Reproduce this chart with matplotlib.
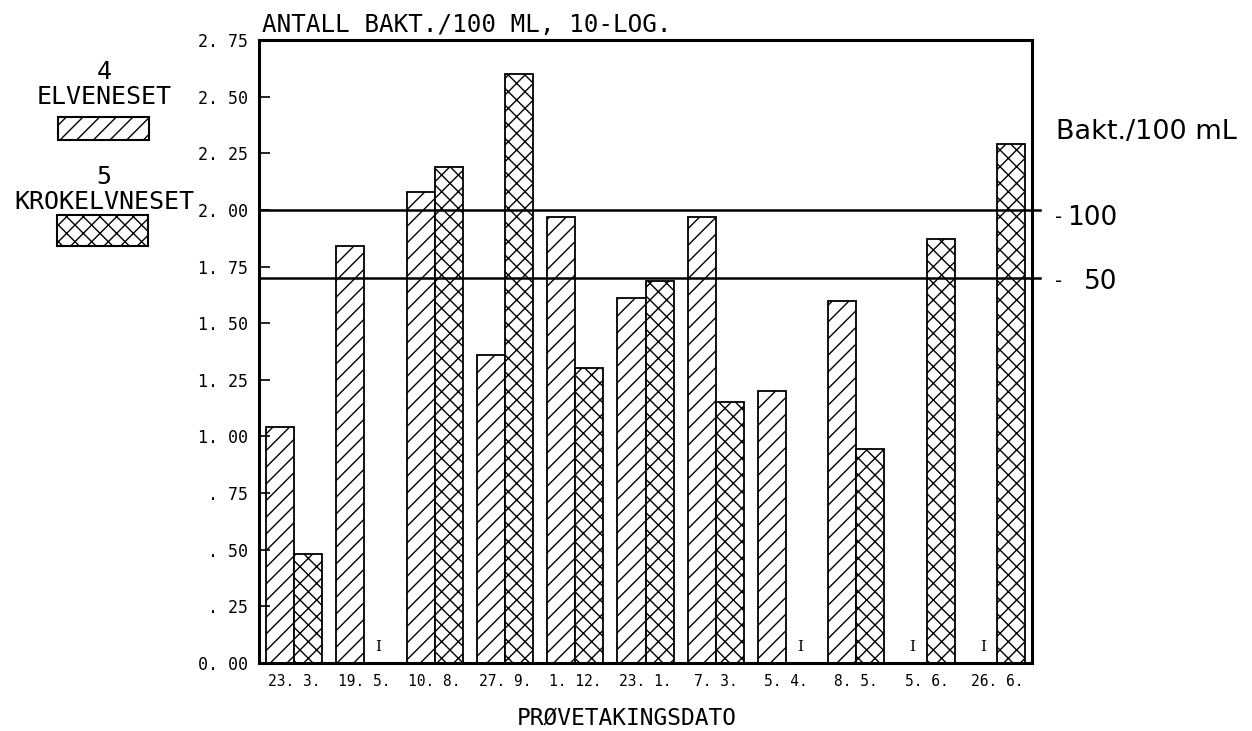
import numpy as np
import matplotlib
matplotlib.use('Agg')
import matplotlib.pyplot as plt
from matplotlib.patches import Rectangle

# sampling dates
dates = ["23. 3.", "19. 5.", "10. 8.", "27. 9.", "1. 12.", "23. 1.",
         "7. 3.", "5. 4.", "8. 5.", "5. 6.", "26. 6."]

# log10 of bacteria per 100 mL, nan = no sample ("I")
elveneset = [1.04, 1.84, 2.08, 1.36, 1.97, 1.61, 1.97, 1.20, 1.60, np.nan, np.nan]
krokelvneset = [0.48, np.nan, 2.19, 2.60, 1.30, 1.685, 1.15, np.nan, 0.945, 1.87, 2.29]

y_ticks = [0.0, 0.25, 0.5, 0.75, 1.0, 1.25, 1.5, 1.75, 2.0, 2.25, 2.5, 2.75]
y_tick_labels = ["0. 00", ". 25", ". 50", ". 75", "1. 00", "1. 25", "1. 50",
                 "1. 75", "2. 00", "2. 25", "2. 50", "2. 75"]

limit_values = [100, 50]

W, H = 1252, 731
mono = 'DejaVu Sans Mono'
plt.rcParams['hatch.linewidth'] = 1.0

fig = plt.figure(figsize=(W / 100, H / 100), dpi=100)
ax = fig.add_axes([259 / W, 1 - 663 / H, (1032 - 259) / W, (663 - 40) / H])

x = np.arange(len(dates))
w = 0.40
series = [(elveneset, -w / 2, '//'), (krokelvneset, w / 2, 'xx')]
for vals, off, hatch in series:
    vals = np.array(vals, dtype=float)
    ok = ~np.isnan(vals)
    ax.bar(x[ok] + off, vals[ok], w, facecolor='white', edgecolor='black',
           hatch=hatch, linewidth=1.3)
    for i in x[~ok]:
        ax.text(i + off, 0.07, "I", ha='center', va='center',
                family='DejaVu Serif', fontsize=11)

# reference lines for 100 and 50 bakt./100 mL
for v in np.log10(limit_values):
    ax.plot([-0.5, 10.62], [v, v], color='black', lw=1.8, clip_on=False)

ax.set_xlim(-0.5, 10.5)
ax.set_ylim(0, 2.75)
ax.set_yticks(y_ticks)
ax.set_yticklabels(y_tick_labels, family=mono, fontsize=12)
ax.set_xticks(x)
ax.set_xticklabels(dates, family=mono, fontsize=10.5)
ax.tick_params(axis='y', direction='in', length=8, width=1.2, pad=8)
ax.tick_params(axis='x', length=0, pad=8)
for s in ax.spines.values():
    s.set_linewidth(2.2)

ax.text(0.004, 1.013, "ANTALL BAKT./100 ML, 10-LOG.", transform=ax.transAxes,
        family=mono, fontsize=17.5, va='baseline')
fig.text(627 / W, 1 - 725 / H, "PRØVETAKINGSDATO", family=mono, fontsize=16.5,
         ha='center', va='baseline')

# legend on the left
fig.text(104 / W, 1 - 72 / H, "4", family=mono, fontsize=18, ha='center', va='center')
fig.text(104 / W, 1 - 97 / H, "ELVENESET", family=mono, fontsize=18, ha='center', va='center')
fig.add_artist(Rectangle((58 / W, 1 - 140 / H), 91 / W, 23 / H, transform=fig.transFigure,
                         facecolor='white', edgecolor='black', hatch='//', lw=1.5))
fig.text(104 / W, 1 - 177 / H, "5", family=mono, fontsize=18, ha='center', va='center')
fig.text(104 / W, 1 - 202 / H, "KROKELVNESET", family=mono, fontsize=18, ha='center', va='center')
fig.add_artist(Rectangle((57 / W, 1 - 246 / H), 91 / W, 31 / H, transform=fig.transFigure,
                         facecolor='white', edgecolor='black', hatch='xx', lw=1.5))

# right side scale
fig.text(1056 / W, 1 - 139 / H, "Bakt./100 mL", fontsize=19.5, va='baseline')
for v, yc in zip(limit_values, [218, 282]):
    fig.text(1055 / W, 1 - yc / H, "-", fontsize=14, va='center')
    fig.text(1117 / W, 1 - yc / H, str(v), fontsize=19, ha='right', va='center')

fig.savefig('out.png', dpi=100)
